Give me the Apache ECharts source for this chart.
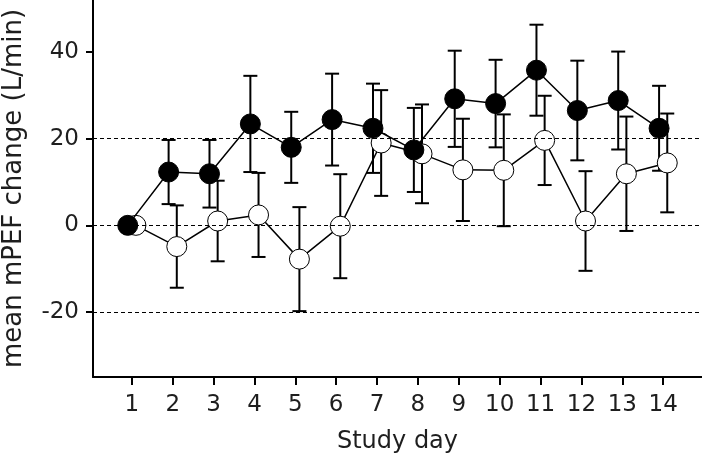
<!DOCTYPE html>
<html>
<head>
<meta charset="utf-8">
<script src="https://cdn.jsdelivr.net/npm/echarts@6/dist/echarts.min.js"></script>
<style>
html,body{margin:0;padding:0;background:#fff;}
#chart{width:702px;height:458px;}
</style>
</head>
<body>
<div id="chart"></div>
<script>
// ---- data ----
const days = [1, 2, 3, 4, 5, 6, 7, 8, 9, 10, 11, 12, 13, 14];
const filledMean = [0, 12.3, 11.9, 23.4, 18.0, 24.4, 22.4, 17.4, 29.2, 28.1, 35.8, 26.5, 28.8, 22.4];
const filledErr  = [0, 7.4, 7.8, 11.1, 8.2, 10.6, 10.3, 9.7, 11.1, 10.1, 10.5, 11.5, 11.3, 9.8];
const openMean   = [0, -4.9, 1.0, 2.4, -7.8, -0.2, 19.0, 16.5, 12.8, 12.7, 19.6, 1.0, 11.9, 14.4];
const openErr    = [0, 9.5, 9.3, 9.7, 12.0, 12.0, 12.2, 11.4, 11.8, 12.9, 10.3, 11.5, 13.2, 11.4];
const yTicks = [-20, 0, 20, 40];
const refLines = [20, 0, -20];

const DODGE = 0.1; // horizontal dodge between the two groups
const FONT = 'DejaVu Sans';
const TXT = '#1e1e1e';

const filledPts = days.map((d, i) => [d - DODGE, filledMean[i], filledErr[i]]);
const openPts = days.map((d, i) => [d + DODGE, openMean[i], openErr[i]]);

function errBar(params, api) {
  const x = api.value(0), y = api.value(1), e = api.value(2);
  if (!e) return null;
  const t = api.coord([x, y + e]);
  const b = api.coord([x, y - e]);
  const c = 7;
  const st = { stroke: '#000', lineWidth: 2 };
  return {
    type: 'group',
    children: [
      { type: 'line', shape: { x1: t[0], y1: t[1], x2: b[0], y2: b[1] }, style: st },
      { type: 'line', shape: { x1: t[0] - c, y1: t[1], x2: t[0] + c, y2: t[1] }, style: st },
      { type: 'line', shape: { x1: b[0] - c, y1: b[1], x2: b[0] + c, y2: b[1] }, style: st }
    ]
  };
}

const chart = echarts.init(document.getElementById('chart'));
chart.setOption({
  animation: false,
  backgroundColor: '#fff',
  grid: { left: 93, top: 0, width: 609, height: 377, containLabel: false, outerBoundsMode: 'none' },
  xAxis: {
    type: 'value',
    min: 0.05, max: 14.95,
    name: 'Study day',
    nameLocation: 'middle',
    nameGap: 53,
    nameTextStyle: { fontFamily: FONT, fontSize: 24, color: TXT },
    axisLine: { onZero: false, lineStyle: { color: '#000', width: 2 } },
    axisTick: { show: true, customValues: days, length: 8, lineStyle: { color: '#000', width: 2 } },
    axisLabel: { customValues: days, fontFamily: FONT, fontSize: 23, color: TXT, margin: 17 },
    splitLine: { show: false }
  },
  yAxis: {
    type: 'value',
    min: -35, max: 52,
    name: 'mean mPEF change (L/min)',
    nameLocation: 'middle',
    nameGap: 66,
    nameTextStyle: { fontFamily: FONT, fontSize: 26, color: TXT },
    axisLine: { show: true, onZero: false, lineStyle: { color: '#000', width: 2 } },
    axisTick: { show: true, customValues: yTicks, length: 7, lineStyle: { color: '#000', width: 2 } },
    axisLabel: { customValues: yTicks, fontFamily: FONT, fontSize: 23, color: TXT, margin: 14 },
    splitLine: { show: false }
  },
  series: [
    {
      type: 'line', data: [], z: 0, silent: true,
      markLine: {
        silent: true, symbol: ['none', 'none'], label: { show: false },
        lineStyle: { color: '#000', width: 1, type: [4, 3] },
        data: refLines.map(v => ({ yAxis: v }))
      }
    },
    { type: 'custom', data: openPts, renderItem: errBar, z: 1, encode: { x: 0, y: 1 } },
    { type: 'custom', data: filledPts, renderItem: errBar, z: 1, encode: { x: 0, y: 1 } },
    {
      type: 'line', data: openPts.map(p => [p[0], p[1]]), z: 2,
      symbol: 'circle', symbolSize: 20,
      lineStyle: { color: '#000', width: 1.5 },
      itemStyle: { color: '#fff', borderColor: '#000', borderWidth: 1 }
    },
    {
      type: 'line', data: filledPts.map(p => [p[0], p[1]]), z: 3,
      symbol: 'circle', symbolSize: 20,
      lineStyle: { color: '#000', width: 1.5 },
      itemStyle: { color: '#000', borderColor: '#000', borderWidth: 1 }
    }
  ]
});
</script>
</body>
</html>
